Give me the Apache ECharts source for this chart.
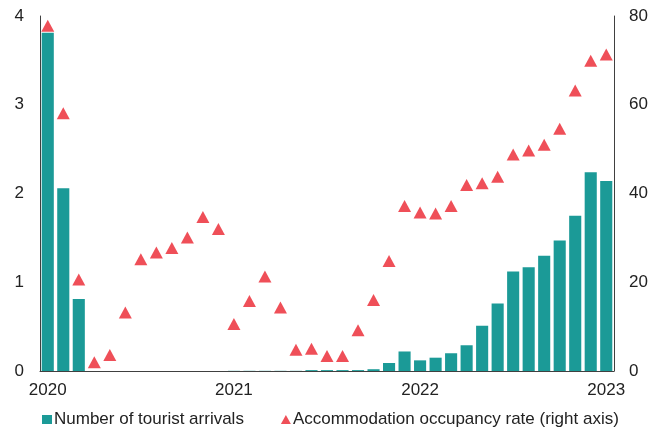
<!DOCTYPE html>
<html>
<head>
<meta charset="utf-8">
<script src="https://cdn.jsdelivr.net/npm/echarts@6/dist/echarts.min.js"></script>
<style>
  html, body { margin: 0; padding: 0; background: #fff; }
  #main { width: 661px; height: 428px; }
</style>
</head>
<body>
<div id="main"></div>
<script>
// monthly, Jan 2020 - Jan 2023
var months = [
  '2020-01', '2020-02', '2020-03', '2020-04', '2020-05', '2020-06',
  '2020-07', '2020-08', '2020-09', '2020-10', '2020-11', '2020-12',
  '2021-01', '2021-02', '2021-03', '2021-04', '2021-05', '2021-06',
  '2021-07', '2021-08', '2021-09', '2021-10', '2021-11', '2021-12',
  '2022-01', '2022-02', '2022-03', '2022-04', '2022-05', '2022-06',
  '2022-07', '2022-08', '2022-09', '2022-10', '2022-11', '2022-12',
  '2023-01'
]

// left axis
var arrivals = [
  3.81, 2.06, 0.81, 0, 0, 0, 0, 0, 0, 0, 0, 0,
  0.002, 0.002, 0.002, 0.002, 0.002, 0.01, 0.01, 0.01, 0.01, 0.02, 0.09, 0.22,
  0.12, 0.15, 0.20, 0.29, 0.51, 0.76, 1.12, 1.17, 1.30, 1.47, 1.75, 2.24,
  2.14
]

// right axis, %
var occupancy = [
  77.8, 58.1, 20.6, 2.0, 3.6, 13.2, 25.2, 26.7, 27.7, 30.1, 34.7, 32.0,
  10.6, 15.8, 21.3, 14.3, 4.8, 5.0, 3.4, 3.4, 9.2, 16.0, 24.8, 37.2,
  35.7, 35.5, 37.2, 41.9, 42.3, 43.8, 48.8, 49.7, 51.0, 54.6, 63.2, 69.9,
  71.3
]

var teal = '#1b9a97'
var red = '#ef4f58'
var font = "'Liberation Sans', Arial, sans-serif"
var axisColor = '#404040'

var chart = echarts.init(document.getElementById('main'))

var option = {
  animation: false,
  textStyle: { fontFamily: font, color: '#222' },
  grid: { left: 40, right: 47, top: 16, bottom: 57 },
  legend: {
    left: 37,
    top: 406,
    itemWidth: 10,
    itemHeight: 9,
    itemGap: 37,
    textStyle: { fontFamily: font, fontSize: 17, color: '#222', padding: [0, 0, 0, -3] },
    data: [
      { name: 'Number of tourist arrivals', icon: 'rect' },
      { name: 'Accommodation occupancy rate (right axis)', icon: 'triangle' }
    ]
  },
  xAxis: {
    type: 'category',
    data: months,
    boundaryGap: true,
    axisLine: { lineStyle: { color: axisColor, width: 1 } },
    axisTick: { show: false },
    axisLabel: {
      interval: 11,
      margin: 11,
      fontSize: 17,
      color: '#222',
      fontFamily: font,
      formatter: function (v) { return v.slice(0, 4) }
    }
  },
  yAxis: [
    {
      type: 'value',
      min: 0,
      max: 4,
      interval: 1,
      splitLine: { show: false },
      axisLine: { show: true, lineStyle: { color: axisColor, width: 1 } },
      axisTick: { show: false },
      axisLabel: { margin: 16, fontSize: 17, color: '#222', fontFamily: font }
    },
    {
      type: 'value',
      min: 0,
      max: 80,
      interval: 20,
      splitLine: { show: false },
      axisLine: { show: true, lineStyle: { color: axisColor, width: 1 } },
      axisTick: { show: false },
      axisLabel: { margin: 15, fontSize: 17, color: '#222', fontFamily: font }
    }
  ],
  series: [
    {
      name: 'Number of tourist arrivals',
      type: 'bar',
      data: arrivals,
      barCategoryGap: '22%',
      itemStyle: { color: teal }
    },
    {
      name: 'Accommodation occupancy rate (right axis)',
      type: 'scatter',
      yAxisIndex: 1,
      data: occupancy,
      symbol: 'triangle',
      symbolSize: [13, 12],
      itemStyle: { color: red, opacity: 1 },
      z: 3
    }
  ]
}

chart.setOption(option)
</script>
</body>
</html>
